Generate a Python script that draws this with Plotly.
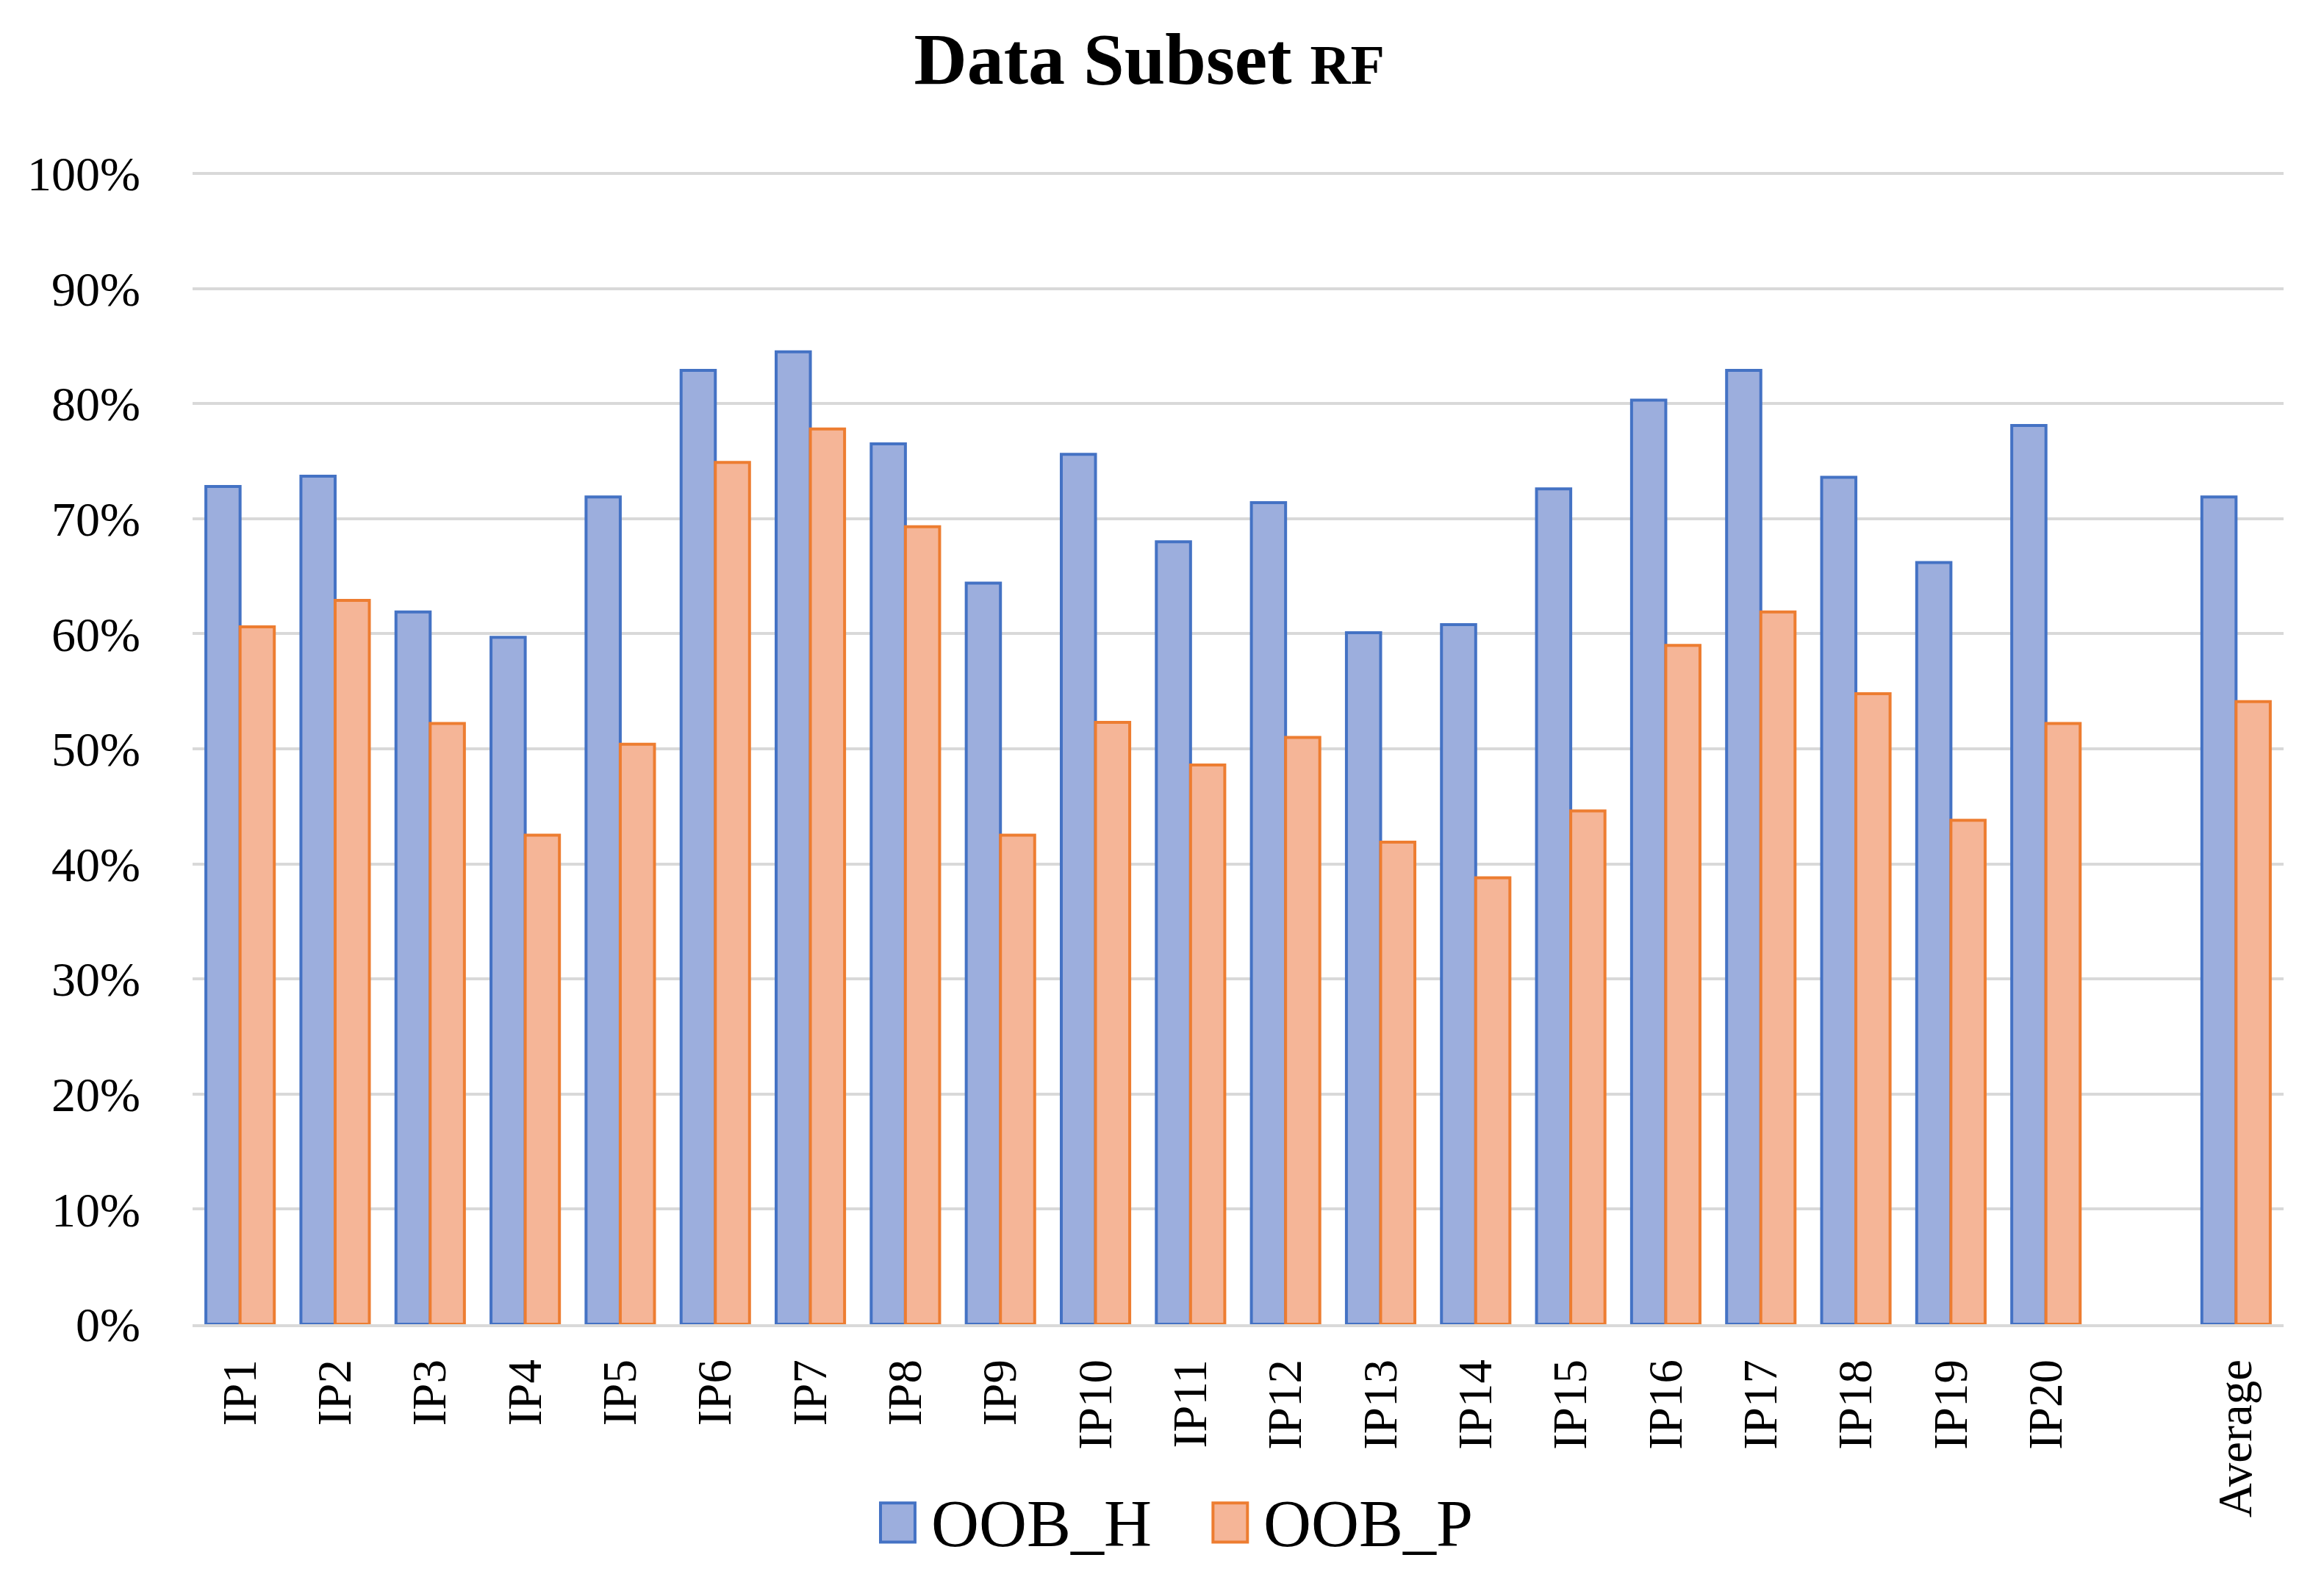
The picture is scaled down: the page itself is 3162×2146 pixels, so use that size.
import plotly.graph_objects as go

categories = ["IP1", "IP2", "IP3", "IP4", "IP5", "IP6", "IP7", "IP8", "IP9", "IP10",
              "IP11", "IP12", "IP13", "IP14", "IP15", "IP16", "IP17", "IP18", "IP19", "IP20",
              " ", "Average"]
oob_h = [72.8, 73.7, 61.9, 59.7, 71.9, 82.9, 84.5, 76.5, 64.4, 75.6,
         68.0, 71.4, 60.1, 60.8, 72.6, 80.3, 82.9, 73.6, 66.2, 78.1,
         None, 71.9]
oob_p = [60.6, 62.9, 52.2, 42.5, 50.4, 74.9, 77.8, 69.3, 42.5, 52.3,
         48.6, 51.0, 41.9, 38.8, 44.6, 59.0, 61.9, 54.8, 43.8, 52.2,
         None, 54.1]
series_names = ["OOB_H", "OOB_P"]
y_ticks = [0, 10, 20, 30, 40, 50, 60, 70, 80, 90, 100]
y_tick_labels = [f"{v}%" for v in y_ticks]

FONT = "Liberation Serif"
blue_fill, blue_line = "#9CAEDD", "#4472C4"
orange_fill, orange_line = "#F5B597", "#ED7D31"

fig = go.Figure()
fig.add_trace(go.Bar(x=categories, y=oob_h, name=series_names[0],
                     marker=dict(color=blue_fill, line=dict(color=blue_line, width=4)),
                     showlegend=False))
fig.add_trace(go.Bar(x=categories, y=oob_p, name=series_names[1],
                     marker=dict(color=orange_fill, line=dict(color=orange_line, width=4)),
                     showlegend=False))

# manual legend (large symbols like the reference)
legend_items = [(series_names[0], blue_fill, blue_line, 0.329),
                (series_names[1], orange_fill, orange_line, 0.488)]
for name, fc, lc, x0 in legend_items:
    fig.add_shape(type="rect", xref="paper", yref="paper",
                  x0=x0, x1=x0 + 0.0165, y0=-0.189, y1=-0.155,
                  fillcolor=fc, line=dict(color=lc, width=4))
    fig.add_annotation(xref="paper", yref="paper", x=x0 + 0.0235, y=-0.173,
                       text=name, showarrow=False, xanchor="left", yanchor="middle",
                       font=dict(family=FONT, size=90, color="#000000"))

fig.update_layout(
    width=3162, height=2146,
    paper_bgcolor="white", plot_bgcolor="white",
    margin=dict(l=254, r=63, t=225, b=352),
    bargap=0.28, bargroupgap=0.0,
    barmode="group",
    title=dict(text="<b>Data Subset <span style='font-size:76px'>RF</span></b>",
               x=0.492, xanchor="center", y=0.967, yanchor="middle",
               font=dict(family=FONT, size=100, color="#000000")),
    font=dict(family=FONT, color="#000000"),
)
fig.update_xaxes(type="category", categoryorder="array", categoryarray=categories,
                 tickangle=-90, tickfont=dict(family=FONT, size=65, color="#000000"),
                 showline=True, linecolor="#D9D9D9", linewidth=4,
                 ticks="", ticklabelstandoff=18, showgrid=False, fixedrange=True)
fig.update_yaxes(range=[0, 100.2], tickvals=y_ticks, ticktext=y_tick_labels,
                 tickfont=dict(family=FONT, size=66, color="#000000"),
                 showgrid=True, gridcolor="#D9D9D9", gridwidth=4,
                 zeroline=False, showline=False, ticks="", ticklabelstandoff=70)

fig.write_html("out.html")
